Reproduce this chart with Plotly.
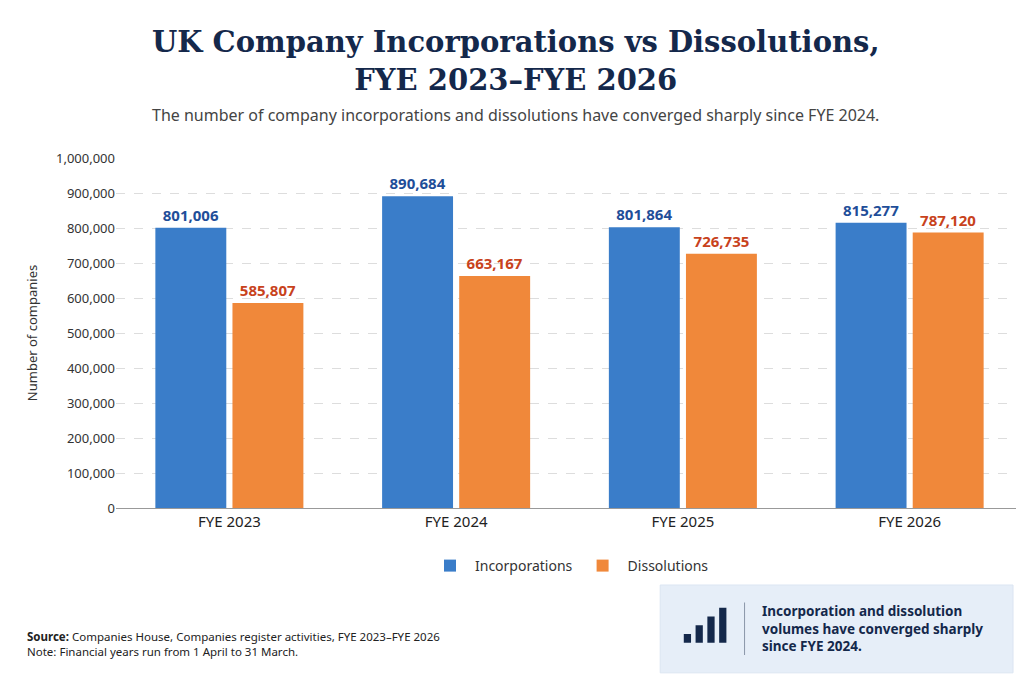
import plotly.graph_objects as go

years = ["FYE 2023", "FYE 2024", "FYE 2025", "FYE 2026"]
incorporations = [801006, 890684, 801864, 815277]
dissolutions = [585807, 663167, 726735, 787120]

blue = "#3a7dc9"
orange = "#f0883a"
navy = "#14284b"

fig = go.Figure()
fig.add_trace(go.Bar(
    x=years, y=incorporations, name="Incorporations",
    marker=dict(color=blue, line=dict(width=0)),
    text=[f"<b>{v:,}</b>" for v in incorporations], textposition="outside",
    textfont=dict(color="#1f4e99", size=15, family="Noto Sans"),
    cliponaxis=False,
))
fig.add_trace(go.Bar(
    x=years, y=dissolutions, name="Dissolutions",
    marker=dict(color=orange, line=dict(width=0)),
    text=[f"<b>{v:,}</b>" for v in dissolutions], textposition="outside",
    textfont=dict(color="#c8421c", size=15, family="Noto Sans"),
    cliponaxis=False,
))

fig.update_layout(
    width=1024, height=683,
    margin=dict(l=108, r=9, t=150, b=183, autoexpand=False),
    paper_bgcolor="white", plot_bgcolor="white",
    font=dict(family="Noto Sans", color="#333"),
    barmode="group", bargap=0.32, bargroupgap=0.08,
    xaxis=dict(tickfont=dict(size=15, color="#222"), showline=True,
               linecolor="#999", ticks=""),
    yaxis=dict(range=[0, 1000000], dtick=100000, tickformat=",",
               tickfont=dict(size=13, color="#333"),
               gridcolor="#dddddd", griddash="dash",
               title=dict(text="Number of companies", font=dict(size=13))),
    legend=dict(orientation="h", x=0.5, xanchor="center", y=-0.12,
                yanchor="top", font=dict(size=14), itemwidth=40,
                traceorder="normal"),
)

fig.add_annotation(
    text="<b>UK Company Incorporations vs Dissolutions,<br>FYE 2023–FYE 2026</b>",
    xref="paper", yref="paper", x=0.44, y=1.385, xanchor="center", yanchor="top",
    showarrow=False, font=dict(family="DejaVu Serif", size=29, color=navy))

fig.add_annotation(
    text="The number of company incorporations and dissolutions have converged sharply since FYE 2024.",
    xref="paper", yref="paper", x=0.44, y=1.123, xanchor="center", yanchor="middle",
    showarrow=False, font=dict(size=16, color="#444"))

fig.add_annotation(
    text="<b>Source:</b> Companies House, Companies register activities, FYE 2023–FYE 2026<br>Note: Financial years run from 1 April to 31 March.",
    xref="paper", yref="paper", x=-0.1, y=-0.34, xanchor="left", yanchor="top",
    align="left", showarrow=False, font=dict(size=11.5, color="#222"))

# callout box
fig.add_shape(type="rect", xref="paper", yref="paper",
              x0=0.6, x1=0.989, y0=-0.471, y1=-0.22,
              fillcolor="#e6eef8", line=dict(color="#dbe5f2", width=1), layer="below")
fig.add_shape(type="line", xref="paper", yref="paper",
              x0=0.693, x1=0.693, y0=-0.42, y1=-0.27, line=dict(color="#8a95a8", width=1))
for i, h in enumerate([0.025, 0.05, 0.075, 0.1]):
    x0 = 0.626 + i * 0.013
    fig.add_shape(type="rect", xref="paper", yref="paper",
                  x0=x0, x1=x0 + 0.008, y0=-0.385, y1=-0.385 + h,
                  fillcolor=navy, line=dict(width=0))
fig.add_annotation(
    text="<b>Incorporation and dissolution<br>volumes have converged sharply<br>since FYE 2024.</b>",
    xref="paper", yref="paper", x=0.71, y=-0.345, xanchor="left", yanchor="middle",
    align="left", showarrow=False, font=dict(size=13.5, color=navy))

fig.write_html("out.html")
